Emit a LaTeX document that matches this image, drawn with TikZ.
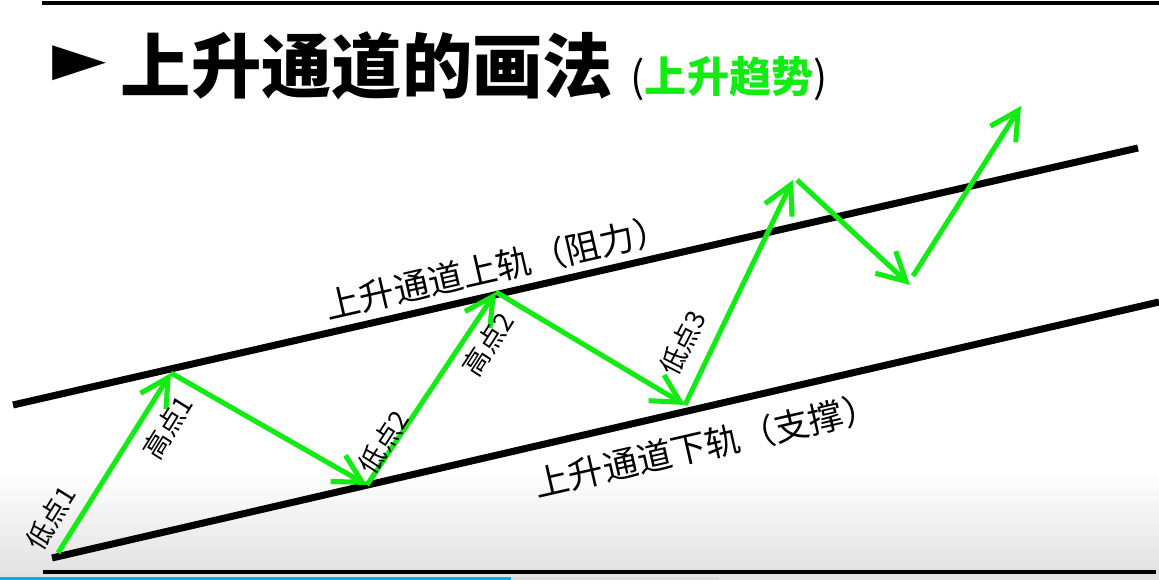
\documentclass[tikz,border=0pt]{standalone}
\usepackage{fontspec}
\setmainfont{Noto Sans CJK SC}
\newfontfamily\symb{DejaVu Sans}
\usetikzlibrary{arrows.meta}
\definecolor{vert}{RGB}{20,235,20}
\definecolor{barre}{RGB}{0,174,239}
\tikzset{
  rail/.style={line width=2pt},
  fleche/.style={vert,line width=1.45pt,-{Straight Barb[length=2.8mm,width=3mm]}},
  etiq/.style={inner sep=0pt,font=\fontsize{7.6}{9}\selectfont},
  legende/.style={inner sep=0pt,rotate=12.9,font=\fontsize{10}{12}\selectfont},
}
\begin{document}
\begin{tikzpicture}[x=0.01cm,y=-0.01cm]
	\useasboundingbox (0,0) rectangle (1159,580);
	%Fond et barre du bas
	\shade[top color=white,bottom color=black!12] (0,470) rectangle (1159,580);
	\fill[barre] (0,577) rectangle (511,580);
	\fill[black!15] (511,577) rectangle (719,580);
	%Lignes du cadre
	\coordinate (C1) at (42,3);
	\coordinate (C2) at (1159,3);
	\coordinate (C3) at (43,572);
	\coordinate (C4) at (1156,572);
	\draw[line width=0.9pt] (C1)--(C2);
	\draw[line width=1.1pt] (C3)--(C4);
	%Titre
	\node[inner sep=0pt] (puce) at (80,64) {\symb\fontsize{20}{22}\selectfont ►};
	\node[anchor=west,inner sep=0pt] (titre) at (120,66) {\fontsize{20}{22}\selectfont\bfseries 上升通道的画法};
	\node[anchor=west,inner sep=0pt] (sous) at (630,79) {\fontsize{12}{14}\selectfont (\textcolor{vert}{\bfseries 上升趋势})};
	%Rails du canal
	\coordinate (R1) at (13,405);
	\coordinate (R2) at (1138,148);
	\coordinate (S1) at (52,558);
	\coordinate (S2) at (1159,302);
	\draw[rail] (R1)--(R2);
	\draw[rail] (S1)--(S2);
	\node[legende] (haut) at (497,267) {上升通道上轨（阻力）};
	\node[legende] (bas) at (706,445) {上升通道下轨（支撑）};
	%Points du trajet
	\coordinate (L1) at (58,553);
	\coordinate (H1) at (171,373);
	\coordinate (L2) at (367,485);
	\coordinate (H2) at (496,292);
	\coordinate (L3) at (685,405);
	\coordinate (H3) at (793,180);
	\coordinate (A1) at (797,180);
	\coordinate (A2) at (910,285);
	\coordinate (A3) at (913,276);
	\coordinate (A4) at (1021,106);
	%Fleches
	\draw[fleche] (L1)--(H1);
	\draw[fleche] (H1)--(L2);
	\draw[fleche] (L2)--(H2);
	\draw[fleche] (H2)--(L3);
	\draw[fleche] (L3)--(H3);
	\draw[fleche] (A1)--(A2);
	\draw[fleche] (A3)--(A4);
	%Noms des points
	\node[etiq,rotate=58] (b1) at (51,518) {低点1};
	\node[etiq,rotate=58] (h1) at (168,427) {高点1};
	\node[etiq,rotate=57] (b2) at (384,442) {低点2};
	\node[etiq,rotate=57] (h2) at (488,344) {高点2};
	\node[etiq,rotate=63] (b3) at (683,343) {低点3};
\end{tikzpicture}
\end{document}
